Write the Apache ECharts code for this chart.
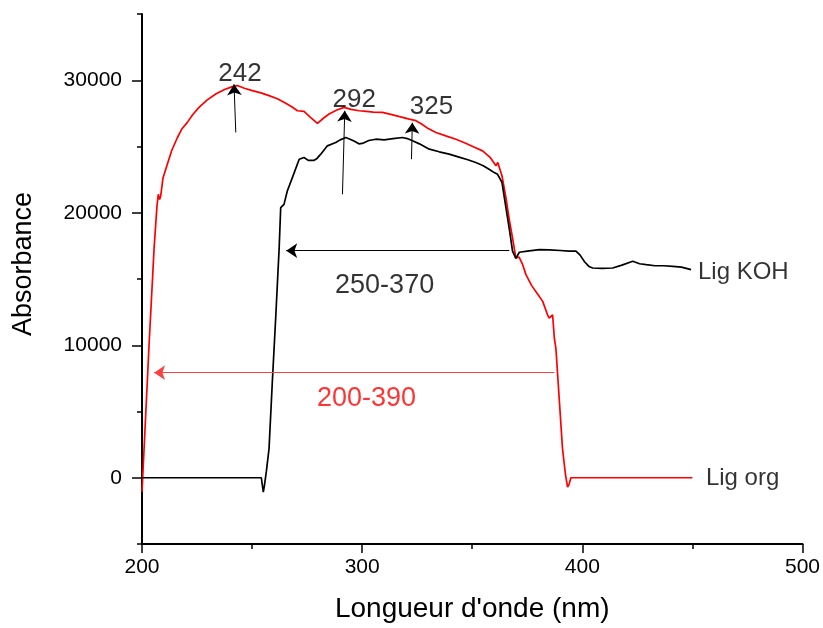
<!DOCTYPE html>
<html>
<head>
<meta charset="utf-8">
<script src="https://cdn.jsdelivr.net/npm/echarts@6/dist/echarts.min.js"></script>
<style>
html,body{margin:0;padding:0;background:#fff;}
#chart{width:823px;height:628px;}
</style>
</head>
<body>
<div id="chart"></div>
<script>
// ---- Data ----
// Lig org (red)
const xOrg = [200, 203.2, 205.5, 206.8, 207.4, 208.0, 208.5, 209.5, 211.5, 213.5, 216.1, 218, 220.6, 223, 225.9, 229.5, 233.5, 237.5, 241.1, 243.3, 246.5, 250.1, 254, 257.7, 261.5, 265.3, 268, 270.6, 273.6, 276.5, 279.7, 282.5, 285, 288.5, 291.8, 295, 298.6, 302, 305, 309.2, 313, 317, 321.4, 324.4, 327, 330, 333.5, 338, 342.6, 347, 351, 354.7, 358, 360.8, 361.6, 362.3, 363.5, 365.3, 367, 368.3, 369.8, 370.6, 371.3, 372.9, 374.4, 377, 380, 382, 384.2, 385, 385.8, 386.5, 387.3, 388, 389.5, 391, 392.3, 393.3, 394.0, 394.8, 450];
const yOrg = [-1060, 10000, 17350, 20500, 21390, 21000, 21260, 22600, 23660, 24700, 25680, 26300, 26820, 27400, 27950, 28500, 28960, 29300, 29520, 29600, 29400, 29220, 29050, 28840, 28600, 28260, 28000, 27700, 27650, 27200, 26740, 27150, 27450, 27750, 27950, 27800, 27700, 27650, 27600, 27580, 27420, 27250, 27070, 26950, 26700, 26350, 26060, 25800, 25550, 25250, 24950, 24670, 24200, 23540, 23800, 23660, 22800, 21140, 19300, 18100, 16590, 16460, 16650, 16080, 15330, 14500, 13800, 13310, 12300, 12050, 12200, 12300, 10530, 9770, 5980, 2200, 300, -700, -500, 0, 0];
// Lig KOH (black)
const xKoh = [200, 254.2, 254.7, 255.1, 255.6, 256.5, 257.7, 259.2, 260.8, 262.3, 263, 263.8, 264.5, 266, 268.3, 271.4, 273.6, 275.5, 278.2, 279.5, 281.2, 284.2, 288, 290, 292.6, 294.5, 296.5, 298.5, 300.1, 303, 306.2, 310, 314, 318.3, 320.5, 322.9, 326, 330.5, 335, 339.5, 344, 348, 351.6, 355, 358, 360, 361.5, 362.3, 363.5, 365.3, 367, 368.3, 369.8, 371.4, 375, 380.5, 385, 390, 394, 397.1, 399, 401, 403, 404.7, 409, 413.8, 418, 422.9, 426, 429, 433, 437, 441.1, 445, 449.4];
const yKoh = [0, 0, -600, -1090, -600, 500, 2200, 7250, 12300, 17350, 20380, 20400, 20630, 21640, 22650, 24040, 24170, 23950, 23960, 24100, 24420, 25050, 25300, 25500, 25680, 25550, 25400, 25200, 25230, 25450, 25550, 25500, 25600, 25680, 25600, 25430, 25200, 24800, 24600, 24420, 24200, 24000, 23790, 23550, 23250, 23030, 22900, 23030, 22300, 20380, 18600, 17100, 16560, 17020, 17100, 17220, 17200, 17150, 17100, 17100, 16800, 16300, 15950, 15830, 15800, 15830, 16050, 16340, 16150, 16080, 16000, 16000, 15960, 15900, 15710];

// Axis tick labels
const xTickVals = [200, 300, 400, 500];
const yTickVals = [0, 10000, 20000, 30000];
const yMinorVals = [-5000, 5000, 15000, 25000, 35000];

// Peak annotations (label, text position, arrow start, arrow tip)
const peakNames = ['242', '292', '325'];
const peakTextX = [244.5, 296.4, 331.5];
const peakTextY = [30460, 28500, 27980];
const peakArrowX0 = [242.6, 291.05, 322.4];
const peakArrowY0 = [26060, 21390, 24040];
const peakArrowX1 = [241.8, 292.1, 322.8];
const peakArrowY1 = [29700, 27700, 26800];

// Range annotations
const rangeNames = ['250-370', '200-390'];
const rangeTextX = [310.2, 302];
const rangeTextY = [14530, 5940];
const rangeArrowX0 = [366.8, 387.3];
const rangeArrowX1 = [265.5, 205.5];
const rangeArrowY = [17140, 7930];

// Series names
const seriesNames = ['Lig KOH', 'Lig org'];
const seriesLabelX = [452.3, 455.9];
const seriesLabelY = [15490, -50];

const FONT = 'Liberation Sans, Arial, sans-serif';

const chart = echarts.init(document.getElementById('chart'), null, {renderer: 'canvas'});

const peakLines = peakNames.map((n, i) => [
  {coord: [peakArrowX0[i], peakArrowY0[i]], symbol: 'none'},
  {coord: [peakArrowX1[i], peakArrowY1[i]], symbol: 'arrow'}
]);

const option = {
  animation: false,
  backgroundColor: '#fff',
  grid: {left: 142, right: 20, top: 14, bottom: 83, containLabel: false},
  xAxis: {
    type: 'value', min: 200, max: 500, interval: 100,
    axisLine: {show: true, onZero: false, lineStyle: {color: '#000', width: 2}},
    axisTick: {show: true, length: 9, lineStyle: {color: '#000', width: 1.5}},
    minorTick: {show: true, splitNumber: 2, length: 5, lineStyle: {color: '#000', width: 1.5}},
    axisLabel: {fontSize: 21, color: '#000', margin: 13, fontFamily: FONT,
      customValues: xTickVals, formatter: v => String(v)},
    splitLine: {show: false},
    name: "Longueur d'onde (nm)", nameLocation: 'middle', nameGap: 51,
    nameTextStyle: {fontSize: 28, color: '#000', fontFamily: FONT}
  },
  yAxis: [
    {
      type: 'value', min: -5000, max: 35000, interval: 5000,
      axisLine: {show: true, onZero: false, lineStyle: {color: '#000', width: 2}},
      axisTick: {show: true, length: 10, customValues: yTickVals, lineStyle: {color: '#000', width: 1.5}},
      axisLabel: {customValues: yTickVals, fontSize: 21, color: '#000', margin: 20, fontFamily: FONT,
        formatter: v => String(v)},
      splitLine: {show: false},
      name: 'Absorbance', nameLocation: 'middle', nameGap: 105,
      nameTextStyle: {fontSize: 27, color: '#000', fontFamily: FONT, padding: [0, 0, 0, 30]}
    },
    {
      type: 'value', min: -5000, max: 35000, interval: 5000, position: 'left',
      axisLine: {show: false},
      axisTick: {show: true, length: 5, customValues: yMinorVals, lineStyle: {color: '#000', width: 1.5}},
      axisLabel: {show: false},
      splitLine: {show: false}
    }
  ],
  series: [
    {
      name: seriesNames[1], type: 'line', showSymbol: false, symbol: 'none',
      data: xOrg.map((x, i) => [x, yOrg[i]]),
      lineStyle: {color: '#ff0000', width: 1.7}, z: 3,
      markLine: {
        silent: true, animation: false, symbol: ['none', 'arrow'], symbolSize: 11,
        label: {show: false},
        lineStyle: {color: '#ff4040', width: 1, type: 'solid'},
        data: rangeNames.slice(1).map((n, j) => {
          const i = j + 1;
          return [{coord: [rangeArrowX0[i], rangeArrowY[i]]}, {coord: [rangeArrowX1[i], rangeArrowY[i]]}];
        })
      }
    },
    {
      name: seriesNames[0], type: 'line', showSymbol: false, symbol: 'none',
      data: xKoh.map((x, i) => [x, yKoh[i]]),
      lineStyle: {color: '#000000', width: 1.7}, z: 4,
      markLine: {
        silent: true, animation: false, symbol: ['none', 'arrow'], symbolSize: 11,
        label: {show: false},
        lineStyle: {color: '#000', width: 1, type: 'solid'},
        data: peakLines.concat([[{coord: [rangeArrowX0[0], rangeArrowY[0]]}, {coord: [rangeArrowX1[0], rangeArrowY[0]]}]])
      }
    },
    {
      type: 'scatter', symbolSize: 1, itemStyle: {color: 'transparent'}, silent: true, z: 10,
      data: [].concat(
        peakNames.map((n, i) => ({name: n, value: [peakTextX[i], peakTextY[i]],
          label: {show: true, position: 'inside', formatter: '{b}', fontSize: 26, color: '#000', textBorderWidth: 0, fontFamily: FONT}})),
        rangeNames.map((n, i) => ({name: n, value: [rangeTextX[i], rangeTextY[i]],
          label: {show: true, position: 'inside', formatter: '{b}', fontSize: 27, color: i === 0 ? '#000' : '#ff0000', textBorderWidth: 0, fontFamily: FONT}})),
        seriesNames.map((n, i) => ({name: n, value: [seriesLabelX[i], seriesLabelY[i]],
          label: {show: true, position: 'right', distance: 0, formatter: '{b}', fontSize: 24, color: '#000', textBorderWidth: 0, fontFamily: FONT}}))
      )
    }
  ]
};
chart.setOption(option);
</script>
</body>
</html>
